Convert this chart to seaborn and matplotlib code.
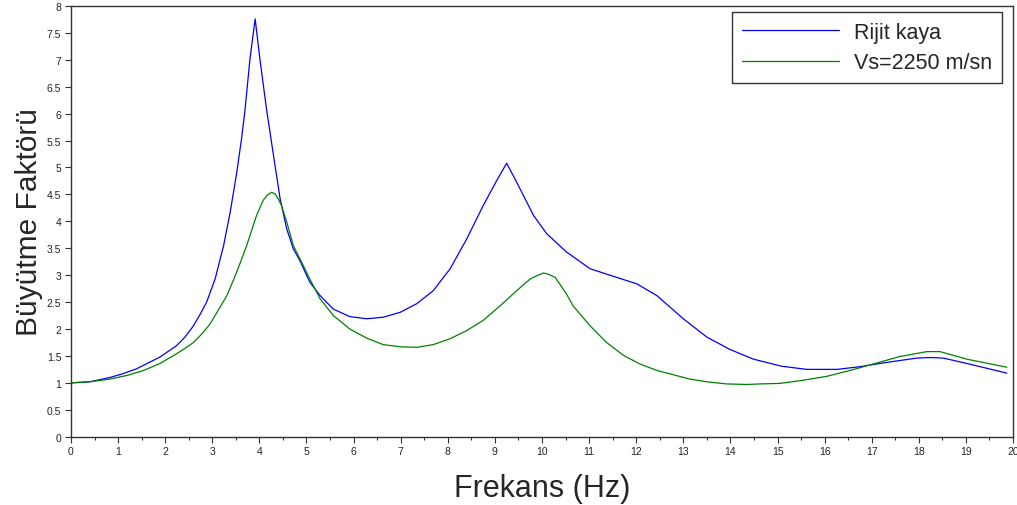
import numpy as np
import pandas as pd
import matplotlib
matplotlib.use("Agg")
import matplotlib.pyplot as plt
from matplotlib.ticker import MultipleLocator, FuncFormatter
import seaborn as sns

# values
freq_rijit = [0.0, 0.40, 0.83, 1.10, 1.39, 1.89, 2.24, 2.42, 2.60, 2.74, 2.88, 3.06,
              3.24, 3.38, 3.52, 3.62, 3.69, 3.80, 3.91, 4.01, 4.15, 4.30, 4.44, 4.58,
              4.72, 4.86, 5.07, 5.29, 5.57, 5.92, 6.28, 6.63, 6.99, 7.34, 7.69, 8.05,
              8.40, 8.75, 9.04, 9.25, 9.46, 9.82, 10.10, 10.52, 11.02, 11.51, 12.01,
              12.44, 13.00, 13.50, 13.99, 14.49, 15.08, 15.62, 16.26, 16.75, 17.32,
              17.96, 18.25, 18.52, 19.02, 19.87]
amp_rijit = [1.00, 1.02, 1.10, 1.17, 1.26, 1.48, 1.69, 1.85, 2.06, 2.27, 2.50, 2.93,
             3.55, 4.17, 4.91, 5.53, 6.03, 7.02, 7.76, 7.02, 6.09, 5.22, 4.42, 3.86,
             3.49, 3.27, 2.87, 2.62, 2.37, 2.23, 2.19, 2.22, 2.31, 2.47, 2.71, 3.12,
             3.67, 4.29, 4.76, 5.08, 4.73, 4.11, 3.77, 3.43, 3.12, 2.98, 2.84,
             2.62, 2.19, 1.85, 1.62, 1.44, 1.31, 1.25, 1.25, 1.30, 1.38,
             1.46, 1.47, 1.46, 1.36, 1.18]

freq_vs = [0.0, 0.40, 0.83, 1.20, 1.54, 1.89, 2.24, 2.42, 2.60, 2.78, 2.95, 3.31,
           3.52, 3.73, 3.94, 4.08, 4.17, 4.26, 4.33, 4.40, 4.47, 4.58, 4.72, 4.93,
           5.07, 5.29, 5.57, 5.92, 6.28, 6.63, 6.99, 7.34, 7.69, 8.05, 8.40, 8.75,
           9.11, 9.46, 9.75, 9.89, 10.03, 10.13, 10.28, 10.52, 10.66, 11.02, 11.37,
           11.73, 12.08, 12.44, 12.79, 13.14, 13.50, 13.92, 14.35, 14.63, 15.05,
           15.48, 16.04, 16.54, 17.03, 17.60, 18.17, 18.45, 19.02, 19.87]
amp_vs = [1.00, 1.02, 1.07, 1.14, 1.23, 1.36, 1.54, 1.64, 1.75, 1.91, 2.09, 2.62,
          3.06, 3.55, 4.11, 4.39, 4.49, 4.54, 4.51, 4.42, 4.29, 3.99, 3.55, 3.18,
          2.93, 2.56, 2.25, 2.00, 1.83, 1.71, 1.67, 1.66, 1.71, 1.82, 1.97, 2.16,
          2.43, 2.71, 2.93, 2.99, 3.04, 3.02, 2.96, 2.65, 2.43, 2.06, 1.75,
          1.51, 1.35, 1.23, 1.15, 1.07, 1.02, 0.98, 0.97, 0.98, 0.99,
          1.04, 1.12, 1.23, 1.35, 1.49, 1.58, 1.58, 1.44, 1.29]

sns.set_style("ticks")
plt.rcParams["font.family"] = ["Liberation Sans", "DejaVu Sans"]

fig = plt.figure(figsize=(10.17, 5.06), dpi=100)
ax = fig.add_axes([0.0698, 0.135, 0.9263, 0.8512])

sns.lineplot(x=freq_rijit, y=amp_rijit, color="#0000ff", linewidth=0.9,
             label="Rijit kaya", ax=ax)
sns.lineplot(x=freq_vs, y=amp_vs, color="#008000", linewidth=0.9,
             label="Vs=2250 m/sn", ax=ax)

ax.set_xlim(0, 20)
ax.set_ylim(0, 8)
ax.xaxis.set_major_locator(MultipleLocator(1))
ax.xaxis.set_minor_locator(MultipleLocator(0.5))
ax.yaxis.set_major_locator(MultipleLocator(0.5))
ax.yaxis.set_major_formatter(FuncFormatter(lambda v, p: f"{v:g}"))

ax.tick_params(axis="both", which="major", labelsize=7.5, length=4, width=0.8,
               pad=3, color="#333333", labelcolor="#222222")
ax.tick_params(axis="x", which="minor", length=2, width=0.8, color="#333333")

for sp in ax.spines.values():
    sp.set_visible(True)
    sp.set_color("#333333")
    sp.set_linewidth(1.0)

ax.set_xlabel("Frekans (Hz)", fontsize=22, labelpad=12)
ax.set_ylabel("Büyütme Faktörü", fontsize=21.5, labelpad=3)

leg = ax.legend(loc="upper right", bbox_to_anchor=(0.988, 0.986), borderaxespad=0,
                fontsize=15.5, handlelength=4.5, handletextpad=0.7,
                borderpad=0.45, labelspacing=0.44, fancybox=False,
                edgecolor="#333333", framealpha=1)
leg.get_frame().set_linewidth(1.0)

fig.savefig("out.png", dpi=100)
